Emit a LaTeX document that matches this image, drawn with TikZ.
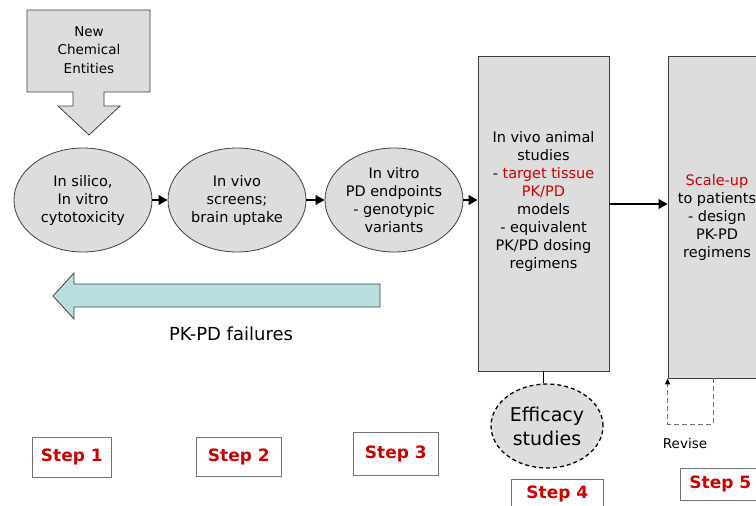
\documentclass[tikz,border=0pt]{standalone}
\usepackage{fontspec}
\setmainfont{DejaVu Sans}
\usetikzlibrary{shapes.geometric,arrows.meta}
\definecolor{panel}{HTML}{DDDDDD}
\definecolor{edge}{HTML}{404040}
\definecolor{accent}{HTML}{CC0000}
\definecolor{failfill}{HTML}{B8DFE0}
\definecolor{stepedge}{HTML}{707070}
\begin{document}
\begin{tikzpicture}[x=1pt,y=-1pt,
  every node/.style={inner sep=0pt},
  txt/.style={align=center,font=\fontsize{14.5}{18}\selectfont},
  stage/.style={ellipse,draw=edge,fill=panel,line width=0.8pt,
    minimum width=138pt,minimum height=104pt,txt},
  tall/.style={rectangle,draw=edge,fill=panel,line width=0.8pt},
  flow/.style={line width=2.6pt,-{Triangle[length=9pt,width=9.5pt]}},
  steplabel/.style={draw=stepedge,line width=0.8pt,fill=white,text=accent,
    font=\fontsize{17}{20}\bfseries\selectfont,anchor=north west},
]
\useasboundingbox (0,0) rectangle (756,506);
\clip (0,0) rectangle (756,506);

% input block with its downward arrow
\draw[edge,fill=panel,line width=0.8pt]
  (27,10) -- (150,10) -- (150,92) -- (104,92) -- (104,106) -- (120,106)
  -- (89,135) -- (58,106) -- (73,106) -- (73,92) -- (27,92) -- cycle;
\node[align=center,font=\fontsize{13.5}{18.5}\selectfont] (nce) at (89,50)
  {New\\Chemical\\Entities};

% screening stages
\node[stage] (e1) at (83,200) {In silico,\\In vitro\\cytotoxicity};
\node[stage] (e2) at (237,200) {In vivo\\screens;\\brain uptake};
\node[stage] (e3) at (394,200) {In vitro\\PD endpoints\\- genotypic\\variants};

% animal studies and scale-up columns
\node[tall,minimum width=131pt,minimum height=315pt] (b4) at (543.5,213.5) {};
\node[txt] (b4t) at (543.5,201) {In vivo animal\\studies\\- \textcolor{accent}{target tissue}\\\textcolor{accent}{PK/PD}\\models\\- equivalent\\PK/PD dosing\\regimens};
\node[tall,minimum width=98pt,minimum height=322pt,txt] (b5) at (717,217)
  {\textcolor{accent}{Scale-up}\\to patients\\- design\\PK-PD\\regimens};

% main flow
\draw[flow] (e1.east) -- (e2.west);
\draw[flow] (e2.east) -- (e3.west);
\draw[flow] (e3.east) -- (e3.east -| b4.west);
\draw[flow] ([yshift=9.5pt]b4.east) -- ([yshift=9.5pt]b4.east -| b5.west);

% efficacy branch
\node[ellipse,draw=black,fill=panel,line width=1.3pt,dash pattern=on 4pt off 3pt,
  minimum width=112pt,minimum height=84pt,align=center,
  font=\fontsize{19}{24}\selectfont] (eff) at (547,426) {Efficacy\\studies};
\draw[line width=1.5pt] (b4.south) -- (b4.south |- eff.north);

% revise loop
\coordinate (revtop) at (713,378);
\draw[stepedge,line width=1pt,dash pattern=on 5pt off 3pt,
  -{Triangle[length=6pt,width=5pt,black]}]
  (revtop) -- ++(0,46) -| (b5.south west);
\node[font=\fontsize{13.5}{16}\selectfont] (rev) at (685,443) {Revise};

% failure feedback arrow
\draw[edge,fill=failfill,line width=0.8pt]
  (380,284) -- (74,284) -- (74,273) -- (53,296) -- (74,319) -- (74,307)
  -- (380,307) -- cycle;
\node[font=\fontsize{18}{22}\selectfont] (fail) at (231,334) {PK-PD failures};

% step labels
\node[steplabel,minimum width=79pt,minimum height=40pt] (s1) at (32,437) {Step 1};
\node[steplabel,minimum width=85pt,minimum height=39pt] (s2) at (196,437) {Step 2};
\node[steplabel,minimum width=85pt,minimum height=43pt] (s3) at (353,432) {Step 3};
\node[steplabel,minimum width=92pt,minimum height=30pt] (s4) at (511,479) {Step 4};
\node[steplabel,minimum width=80pt,minimum height=32pt] (s5) at (680,468) {Step 5};
\end{tikzpicture}
\end{document}
